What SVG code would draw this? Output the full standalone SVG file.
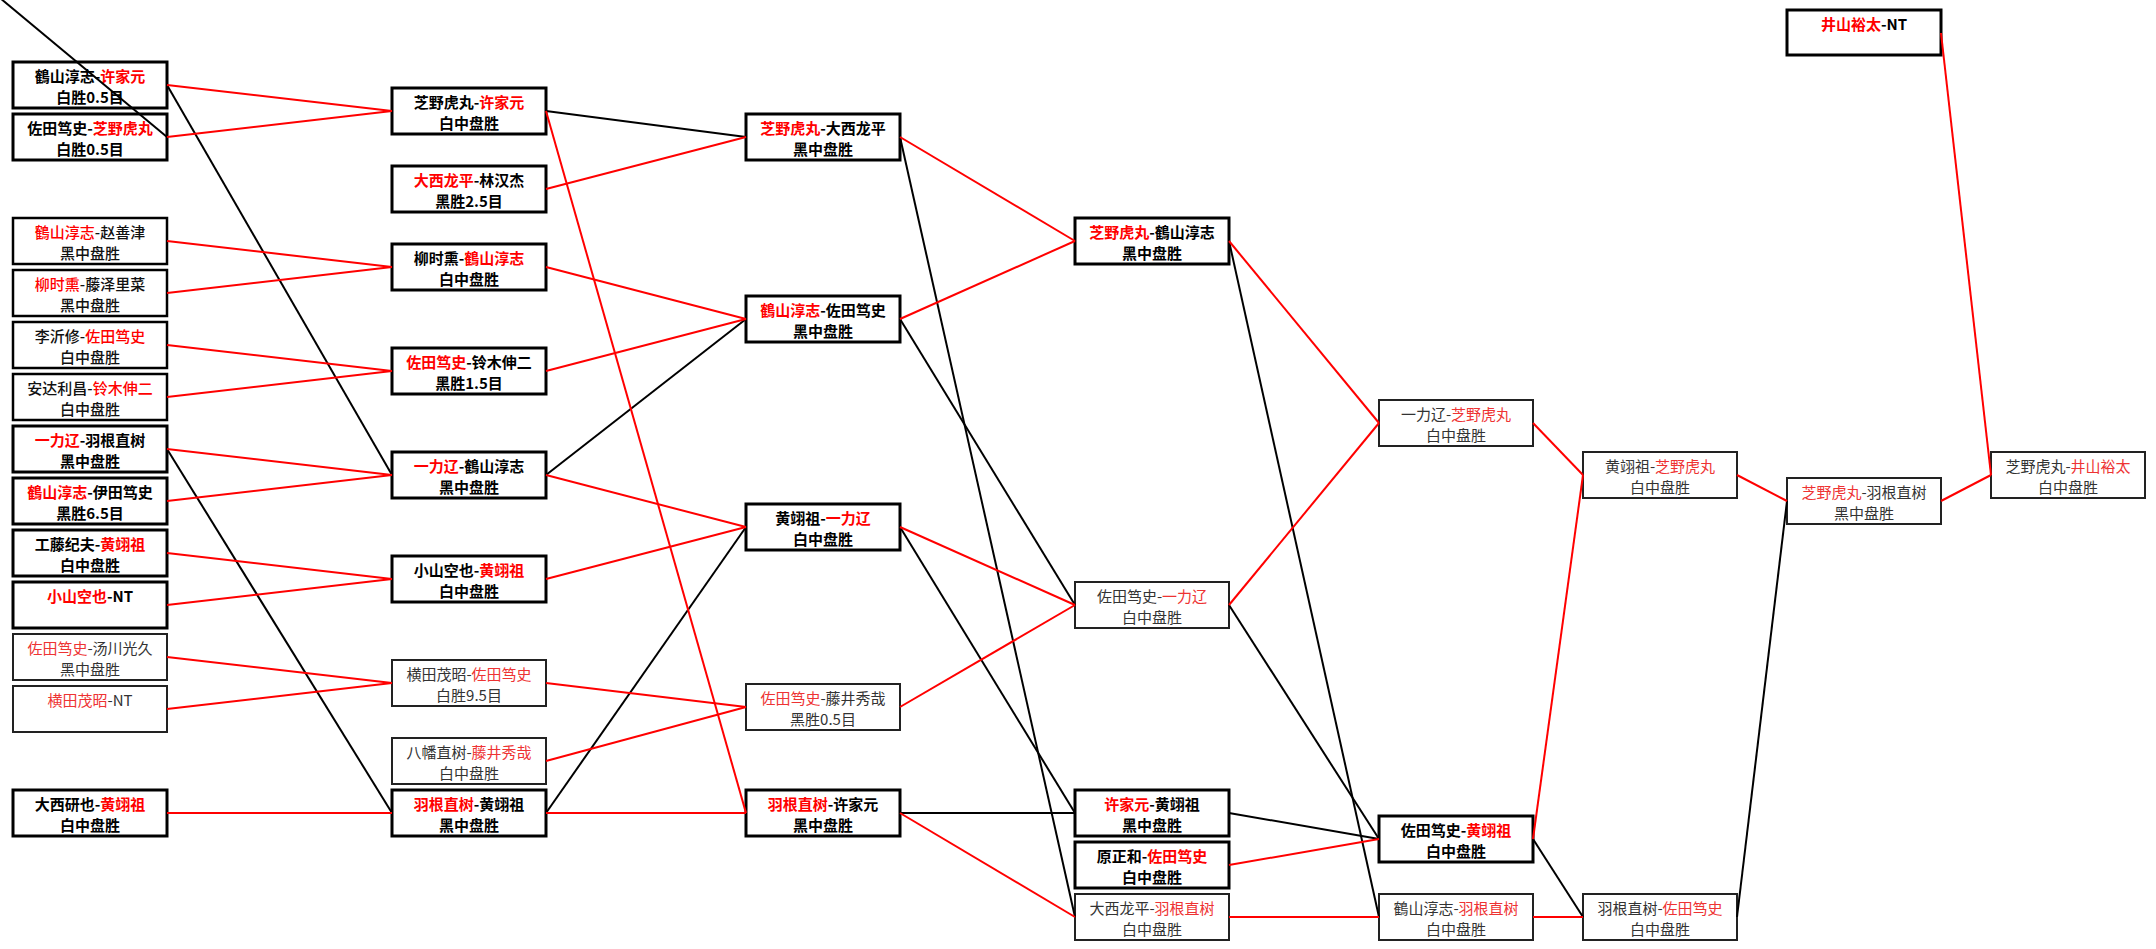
<svg xmlns="http://www.w3.org/2000/svg" width="2156" height="949" viewBox="0 0 2156 949">
<style>
.n rect{fill:none;stroke:#000;stroke-width:3}
.n text{font-family:"Noto Sans CJK SC",sans-serif;font-size:15px;text-anchor:middle;fill:#000}
.k text{font-weight:700}
.m rect{stroke-width:2.5}
.m text{font-weight:500;fill:#111}
.t rect{stroke-width:2;stroke:#222}
.t text{font-weight:400;fill:#333}
.r{fill:#ff0000}
.t .r{fill:#ee3333}
.cr line{stroke:#ff0000;stroke-width:2}
.cb line{stroke:#000;stroke-width:2}
</style>
<rect width="2156" height="949" fill="#ffffff"/>
<g id="nodes">
<g id="A1" class="n k"><rect x="13" y="62" width="154" height="46"/><text x="90" y="82">鶴山淳志-<tspan class="r">许家元</tspan></text><text x="90" y="103">白胜0.5目</text></g>
<g id="A2" class="n k"><rect x="13" y="114" width="154" height="46"/><text x="90" y="134">佐田笃史-<tspan class="r">芝野虎丸</tspan></text><text x="90" y="155">白胜0.5目</text></g>
<g id="A3" class="n m"><rect x="13" y="218" width="154" height="46"/><text x="90" y="238"><tspan class="r">鶴山淳志</tspan>-赵善津</text><text x="90" y="259">黑中盘胜</text></g>
<g id="A4" class="n m"><rect x="13" y="270" width="154" height="46"/><text x="90" y="290"><tspan class="r">柳时熏</tspan>-藤泽里菜</text><text x="90" y="311">黑中盘胜</text></g>
<g id="A5" class="n m"><rect x="13" y="322" width="154" height="46"/><text x="90" y="342">李沂修-<tspan class="r">佐田笃史</tspan></text><text x="90" y="363">白中盘胜</text></g>
<g id="A6" class="n m"><rect x="13" y="374" width="154" height="46"/><text x="90" y="394">安达利昌-<tspan class="r">铃木伸二</tspan></text><text x="90" y="415">白中盘胜</text></g>
<g id="A7" class="n k"><rect x="13" y="426" width="154" height="46"/><text x="90" y="446"><tspan class="r">一力辽</tspan>-羽根直树</text><text x="90" y="467">黑中盘胜</text></g>
<g id="A8" class="n k"><rect x="13" y="478" width="154" height="46"/><text x="90" y="498"><tspan class="r">鶴山淳志</tspan>-伊田笃史</text><text x="90" y="519">黑胜6.5目</text></g>
<g id="A9" class="n k"><rect x="13" y="530" width="154" height="46"/><text x="90" y="550">工藤纪夫-<tspan class="r">黄翊祖</tspan></text><text x="90" y="571">白中盘胜</text></g>
<g id="A10" class="n k"><rect x="13" y="582" width="154" height="46"/><text x="90" y="602"><tspan class="r">小山空也</tspan>-NT</text></g>
<g id="A11" class="n t"><rect x="13" y="634" width="154" height="46"/><text x="90" y="654"><tspan class="r">佐田笃史</tspan>-汤川光久</text><text x="90" y="675">黑中盘胜</text></g>
<g id="A12" class="n t"><rect x="13" y="686" width="154" height="46"/><text x="90" y="706"><tspan class="r">横田茂昭</tspan>-NT</text></g>
<g id="A13" class="n k"><rect x="13" y="790" width="154" height="46"/><text x="90" y="810">大西研也-<tspan class="r">黄翊祖</tspan></text><text x="90" y="831">白中盘胜</text></g>

<g id="B1" class="n k"><rect x="392" y="88" width="154" height="46"/><text x="469" y="108">芝野虎丸-<tspan class="r">许家元</tspan></text><text x="469" y="129">白中盘胜</text></g>
<g id="B2" class="n k"><rect x="392" y="166" width="154" height="46"/><text x="469" y="186"><tspan class="r">大西龙平</tspan>-林汉杰</text><text x="469" y="207">黑胜2.5目</text></g>
<g id="B3" class="n k"><rect x="392" y="244" width="154" height="46"/><text x="469" y="264">柳时熏-<tspan class="r">鶴山淳志</tspan></text><text x="469" y="285">白中盘胜</text></g>
<g id="B4" class="n k"><rect x="392" y="348" width="154" height="46"/><text x="469" y="368"><tspan class="r">佐田笃史</tspan>-铃木伸二</text><text x="469" y="389">黑胜1.5目</text></g>
<g id="B5" class="n k"><rect x="392" y="452" width="154" height="46"/><text x="469" y="472"><tspan class="r">一力辽</tspan>-鶴山淳志</text><text x="469" y="493">黑中盘胜</text></g>
<g id="B6" class="n k"><rect x="392" y="556" width="154" height="46"/><text x="469" y="576">小山空也-<tspan class="r">黄翊祖</tspan></text><text x="469" y="597">白中盘胜</text></g>
<g id="B7" class="n t"><rect x="392" y="660" width="154" height="46"/><text x="469" y="680">横田茂昭-<tspan class="r">佐田笃史</tspan></text><text x="469" y="701">白胜9.5目</text></g>
<g id="B8" class="n t"><rect x="392" y="738" width="154" height="46"/><text x="469" y="758">八幡直树-<tspan class="r">藤井秀哉</tspan></text><text x="469" y="779">白中盘胜</text></g>
<g id="B9" class="n k"><rect x="392" y="790" width="154" height="46"/><text x="469" y="810"><tspan class="r">羽根直树</tspan>-黄翊祖</text><text x="469" y="831">黑中盘胜</text></g>

<g id="C1" class="n k"><rect x="746" y="114" width="154" height="46"/><text x="823" y="134"><tspan class="r">芝野虎丸</tspan>-大西龙平</text><text x="823" y="155">黑中盘胜</text></g>
<g id="C2" class="n k"><rect x="746" y="296" width="154" height="46"/><text x="823" y="316"><tspan class="r">鶴山淳志</tspan>-佐田笃史</text><text x="823" y="337">黑中盘胜</text></g>
<g id="C3" class="n k"><rect x="746" y="504" width="154" height="46"/><text x="823" y="524">黄翊祖-<tspan class="r">一力辽</tspan></text><text x="823" y="545">白中盘胜</text></g>
<g id="C4" class="n t"><rect x="746" y="684" width="154" height="46"/><text x="823" y="704"><tspan class="r">佐田笃史</tspan>-藤井秀哉</text><text x="823" y="725">黑胜0.5目</text></g>
<g id="C5" class="n k"><rect x="746" y="790" width="154" height="46"/><text x="823" y="810"><tspan class="r">羽根直树</tspan>-许家元</text><text x="823" y="831">黑中盘胜</text></g>

<g id="D1" class="n k"><rect x="1075" y="218" width="154" height="46"/><text x="1152" y="238"><tspan class="r">芝野虎丸</tspan>-鶴山淳志</text><text x="1152" y="259">黑中盘胜</text></g>
<g id="D2" class="n t"><rect x="1075" y="582" width="154" height="46"/><text x="1152" y="602">佐田笃史-<tspan class="r">一力辽</tspan></text><text x="1152" y="623">白中盘胜</text></g>
<g id="D3" class="n k"><rect x="1075" y="790" width="154" height="46"/><text x="1152" y="810"><tspan class="r">许家元</tspan>-黄翊祖</text><text x="1152" y="831">黑中盘胜</text></g>
<g id="D4" class="n k"><rect x="1075" y="842" width="154" height="46"/><text x="1152" y="862">原正和-<tspan class="r">佐田笃史</tspan></text><text x="1152" y="883">白中盘胜</text></g>
<g id="D5" class="n t"><rect x="1075" y="894" width="154" height="46"/><text x="1152" y="914">大西龙平-<tspan class="r">羽根直树</tspan></text><text x="1152" y="935">白中盘胜</text></g>

<g id="E1" class="n t"><rect x="1379" y="400" width="154" height="46"/><text x="1456" y="420">一力辽-<tspan class="r">芝野虎丸</tspan></text><text x="1456" y="441">白中盘胜</text></g>
<g id="E2" class="n k"><rect x="1379" y="816" width="154" height="46"/><text x="1456" y="836">佐田笃史-<tspan class="r">黄翊祖</tspan></text><text x="1456" y="857">白中盘胜</text></g>
<g id="E3" class="n t"><rect x="1379" y="894" width="154" height="46"/><text x="1456" y="914">鶴山淳志-<tspan class="r">羽根直树</tspan></text><text x="1456" y="935">白中盘胜</text></g>

<g id="F1" class="n t"><rect x="1583" y="452" width="154" height="46"/><text x="1660" y="472">黄翊祖-<tspan class="r">芝野虎丸</tspan></text><text x="1660" y="493">白中盘胜</text></g>
<g id="F2" class="n t"><rect x="1583" y="894" width="154" height="46"/><text x="1660" y="914">羽根直树-<tspan class="r">佐田笃史</tspan></text><text x="1660" y="935">白中盘胜</text></g>

<g id="G1" class="n k"><rect x="1787" y="10" width="154" height="45"/><text x="1864" y="30"><tspan class="r">井山裕太</tspan>-NT</text></g>
<g id="G2" class="n t"><rect x="1787" y="478" width="154" height="46"/><text x="1864" y="498"><tspan class="r">芝野虎丸</tspan>-羽根直树</text><text x="1864" y="519">黑中盘胜</text></g>

<g id="H1" class="n t"><rect x="1991" y="452" width="154" height="46"/><text x="2068" y="472">芝野虎丸-<tspan class="r">井山裕太</tspan></text><text x="2068" y="493">白中盘胜</text></g>
</g>
<g id="connectors">
<g class="cb">
<line x1="0" y1="-2" x2="167" y2="137"/>
<line x1="167" y1="85" x2="392" y2="475"/>
<line x1="167" y1="449" x2="392" y2="813"/>
<line x1="546" y1="111" x2="746" y2="137"/>
<line x1="546" y1="475" x2="746" y2="319"/>
<line x1="546" y1="813" x2="746" y2="527"/>
<line x1="900" y1="137" x2="1075" y2="917"/>
<line x1="900" y1="319" x2="1075" y2="605"/>
<line x1="900" y1="527" x2="1075" y2="813"/>
<line x1="900" y1="813" x2="1075" y2="813"/>
<line x1="1229" y1="241" x2="1379" y2="917"/>
<line x1="1229" y1="605" x2="1379" y2="839"/>
<line x1="1229" y1="813" x2="1379" y2="839"/>
<line x1="1533" y1="839" x2="1583" y2="917"/>
<line x1="1737" y1="917" x2="1787" y2="501"/>
</g>
<g class="cr">
<line x1="167" y1="85" x2="392" y2="111"/>
<line x1="167" y1="137" x2="392" y2="111"/>
<line x1="167" y1="241" x2="392" y2="267"/>
<line x1="167" y1="293" x2="392" y2="267"/>
<line x1="167" y1="345" x2="392" y2="371"/>
<line x1="167" y1="397" x2="392" y2="371"/>
<line x1="167" y1="449" x2="392" y2="475"/>
<line x1="167" y1="501" x2="392" y2="475"/>
<line x1="167" y1="553" x2="392" y2="579"/>
<line x1="167" y1="605" x2="392" y2="579"/>
<line x1="167" y1="657" x2="392" y2="683"/>
<line x1="167" y1="709" x2="392" y2="683"/>
<line x1="167" y1="813" x2="392" y2="813"/>
<line x1="546" y1="111" x2="746" y2="813"/>
<line x1="546" y1="189" x2="746" y2="137"/>
<line x1="546" y1="267" x2="746" y2="319"/>
<line x1="546" y1="371" x2="746" y2="319"/>
<line x1="546" y1="475" x2="746" y2="527"/>
<line x1="546" y1="579" x2="746" y2="527"/>
<line x1="546" y1="683" x2="746" y2="707"/>
<line x1="546" y1="761" x2="746" y2="707"/>
<line x1="546" y1="813" x2="746" y2="813"/>
<line x1="900" y1="137" x2="1075" y2="241"/>
<line x1="900" y1="319" x2="1075" y2="241"/>
<line x1="900" y1="527" x2="1075" y2="605"/>
<line x1="900" y1="707" x2="1075" y2="605"/>
<line x1="900" y1="813" x2="1075" y2="917"/>
<line x1="1229" y1="241" x2="1379" y2="423"/>
<line x1="1229" y1="605" x2="1379" y2="423"/>
<line x1="1229" y1="865" x2="1379" y2="839"/>
<line x1="1229" y1="917" x2="1379" y2="917"/>
<line x1="1533" y1="423" x2="1583" y2="475"/>
<line x1="1533" y1="839" x2="1583" y2="475"/>
<line x1="1533" y1="917" x2="1583" y2="917"/>
<line x1="1737" y1="475" x2="1787" y2="501"/>
<line x1="1941" y1="33" x2="1991" y2="475"/>
<line x1="1941" y1="501" x2="1991" y2="475"/>
</g>
</g>
</svg>
